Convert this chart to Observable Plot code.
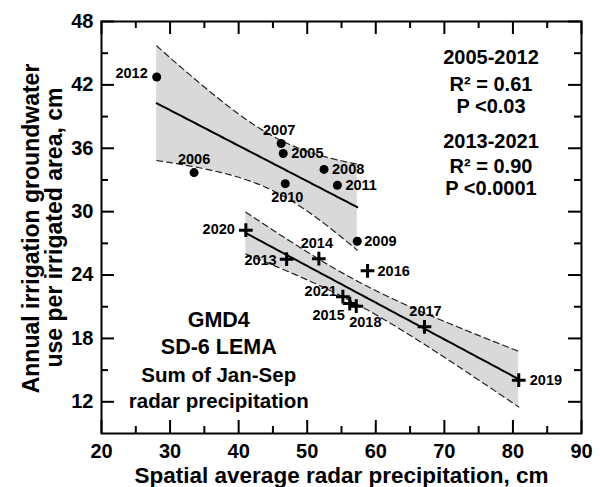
<!DOCTYPE html>
<html>
<head>
<meta charset="utf-8">
<script src="https://cdn.jsdelivr.net/npm/d3@7"></script>
<script src="https://cdn.jsdelivr.net/npm/@observablehq/plot@0.6"></script>
<style>
  html, body { margin: 0; padding: 0; background: #fff; }
  #chart svg { display: block; }
</style>
</head>
<body>
<div id="chart"></div>
<script>
// ---- Data: 2005-2012 (filled circles) ----
const yearsA  = [2005, 2006, 2007, 2008, 2009, 2010, 2011, 2012];
const precipA = [46.5, 33.5, 46.2, 52.45, 57.3, 46.8, 54.4, 28.05];
const useA    = [35.5, 33.7, 36.45, 34.0, 27.2, 32.65, 32.5, 42.75];

// ---- Data: 2013-2021 (plus markers) ----
const yearsB  = [2013, 2014, 2015, 2016, 2017, 2018, 2019, 2020, 2021];
const precipB = [47.0, 51.7, 56.2, 58.8, 67.1, 57.15, 80.85, 41.05, 55.2];
const useB    = [25.5, 25.55, 21.3, 24.4, 19.1, 21.05, 14.05, 28.25, 21.95];

// ---- Axis ticks ----
const xTicks = [20, 30, 40, 50, 60, 70, 80, 90];
const xMinor = [25, 35, 45, 55, 65, 75, 85];
const yTicks = [12, 18, 24, 30, 36, 42, 48];
const yMinor = [15, 21, 27, 33, 39, 45];

// ---- Texts ----
const xTitle = "Spatial average radar precipitation, cm";
const yTitle = ["Annual irrigation groundwater", "use per irrigated area, cm"];
const statsLines = ["2005-2012", "R\u00B2 = 0.61", "P <0.03", "2013-2021", "R\u00B2 = 0.90", "P <0.0001"];
const noteLines = ["GMD4", "SD-6 LEMA", "Sum of Jan-Sep", "radar precipitation"];

// ---- Layout (positions kept apart from data) ----
const statsPos = {x: 76.8, y: [44.62, 42.04, 39.9, 36.59, 34.29, 32.18]};
const notePos = {x: 37.1, y: [19.73, 17.18, 14.53, 12.0], size: [21.5, 21.5, 20.5, 20.5]};
const labelLayout = {
  2005: [8, 0, "start"], 2006: [0, -13, "middle"], 2007: [-2, -13, "middle"],
  2008: [8, 0, "start"], 2009: [7, 0, "start"], 2010: [2, 14, "middle"],
  2011: [8, 0, "start"], 2012: [-9, -4, "end"],
  2013: [-10, 1, "end"], 2014: [-2, -15, "middle"], 2015: [-5, 12, "end"],
  2016: [10, 1, "start"], 2017: [1, -15, "middle"], 2018: [-7, 16, "start"],
  2019: [11, 0, "start"], 2020: [-11, -1, "end"], 2021: [-6, -5, "end"]
};

// ---- Regression with 95% confidence band (derived from the data) ----
const T975 = {6: 2.4469, 7: 2.3646};
function regression(xs, ys) {
  const n = xs.length;
  const mx = d3.mean(xs), my = d3.mean(ys);
  let sxx = 0, sxy = 0;
  for (let i = 0; i < n; i++) { sxx += (xs[i] - mx) ** 2; sxy += (xs[i] - mx) * (ys[i] - my); }
  const b = sxy / sxx, a = my - b * mx;
  let sse = 0;
  for (let i = 0; i < n; i++) sse += (ys[i] - (a + b * xs[i])) ** 2;
  const s = Math.sqrt(sse / (n - 2));
  const t = T975[n - 2];
  const [x0, x1] = d3.extent(xs);
  return d3.range(0, 81).map(k => {
    const x = x0 + (x1 - x0) * k / 80;
    const yh = a + b * x;
    const h = t * s * Math.sqrt(1 / n + (x - mx) ** 2 / sxx);
    return {x, y: yh, lo: yh - h, hi: yh + h};
  });
}

const ptsA = yearsA.map((yr, i) => ({year: yr, x: precipA[i], y: useA[i]}));
const ptsB = yearsB.map((yr, i) => ({year: yr, x: precipB[i], y: useB[i]}));
const bandA = regression(precipA, useA);
const bandB = regression(precipB, useB);

const W = 600, H = 487, mL = 101, mR = 19, mT = 21, mB = 54;
const fw = W - mL - mR, fh = H - mT - mB;
const MAJ = 13, MIN = 7;
const FONT = "'Liberation Sans', Arial, Helvetica, sans-serif";

const dash = {stroke: "#222", strokeWidth: 1.2, strokeDasharray: "6,4"};
const labelMarks = [...ptsA, ...ptsB].map(p => {
  const [dx, dy, anchor] = labelLayout[p.year];
  return Plot.text([p], {x: "x", y: "y", text: d => String(d.year), dx, dy, textAnchor: anchor,
    lineAnchor: "middle", fontSize: 14.5, fontWeight: "bold", fontFamily: FONT, fill: "black"});
});

const chart = Plot.plot({
  width: W, height: H,
  marginLeft: mL, marginRight: mR, marginTop: mT, marginBottom: mB,
  x: {domain: [20, 90]},
  y: {domain: [9, 48]},
  style: {fontFamily: FONT, fontWeight: "bold", background: "white", color: "black"},
  marks: [
    Plot.areaY(bandA, {x: "x", y1: "lo", y2: "hi", fill: "#d9d9d9"}),
    Plot.areaY(bandB, {x: "x", y1: "lo", y2: "hi", fill: "#d9d9d9"}),
    Plot.line(bandA, {x: "x", y: "lo", ...dash}),
    Plot.line(bandA, {x: "x", y: "hi", ...dash}),
    Plot.line(bandB, {x: "x", y: "lo", ...dash}),
    Plot.line(bandB, {x: "x", y: "hi", ...dash}),
    Plot.line(bandA, {x: "x", y: "y", stroke: "black", strokeWidth: 2}),
    Plot.line(bandB, {x: "x", y: "y", stroke: "black", strokeWidth: 2}),
    // inward ticks on all four sides
    Plot.tickX(xTicks, {x: d => d, insetBottom: fh - MAJ, stroke: "black", strokeWidth: 2}),
    Plot.tickX(xTicks, {x: d => d, insetTop: fh - MAJ, stroke: "black", strokeWidth: 2}),
    Plot.tickX(xMinor, {x: d => d, insetBottom: fh - MIN, stroke: "black", strokeWidth: 2}),
    Plot.tickX(xMinor, {x: d => d, insetTop: fh - MIN, stroke: "black", strokeWidth: 2}),
    Plot.tickY(yTicks, {y: d => d, insetRight: fw - MAJ, stroke: "black", strokeWidth: 2}),
    Plot.tickY(yTicks, {y: d => d, insetLeft: fw - MAJ, stroke: "black", strokeWidth: 2}),
    Plot.tickY(yMinor, {y: d => d, insetRight: fw - MIN, stroke: "black", strokeWidth: 2}),
    Plot.tickY(yMinor, {y: d => d, insetLeft: fw - MIN, stroke: "black", strokeWidth: 2}),
    Plot.frame({stroke: "black", strokeWidth: 2}),
    Plot.axisX(xTicks, {anchor: "bottom", tickSize: 0, tickPadding: 10, fontSize: 20, fontWeight: "bold", label: null}),
    Plot.axisY(yTicks, {anchor: "left", tickSize: 0, tickPadding: 8, fontSize: 20, fontWeight: "bold", label: null}),
    // axis titles
    Plot.text([xTitle], {frameAnchor: "bottom", dy: 42, lineAnchor: "middle", textAnchor: "middle", text: d => d, fontSize: 22.5, fontWeight: "bold", fill: "black"}),
    Plot.text([yTitle[0]], {frameAnchor: "left", dx: 31 - mL, dy: 1, rotate: -90, textAnchor: "middle", lineAnchor: "middle", text: d => d, fontSize: 23, fontWeight: "bold", fill: "black"}),
    Plot.text([yTitle[1]], {frameAnchor: "left", dx: 54 - mL, dy: 0, rotate: -90, textAnchor: "middle", lineAnchor: "middle", text: d => d, fontSize: 23, fontWeight: "bold", fill: "black"}),
    // points
    Plot.dot(ptsA, {x: "x", y: "y", r: 4.5, fill: "black"}),
    Plot.dot(ptsB, {x: "x", y: "y", symbol: "plus", r: 4.5, stroke: "black", strokeWidth: 3}),
    ...labelMarks,
    // annotations
    Plot.text(statsLines.map((t, i) => ({t, y: statsPos.y[i]})), {x: () => statsPos.x, y: "y", text: "t", fontSize: 20, fontWeight: "bold", fill: "black"}),
    ...noteLines.map((t, i) => Plot.text([t], {x: () => notePos.x, y: () => notePos.y[i], text: d => d, fontSize: notePos.size[i], fontWeight: "bold", fill: "black"}))
  ]
});
document.getElementById("chart").append(chart);
</script>
</body>
</html>
